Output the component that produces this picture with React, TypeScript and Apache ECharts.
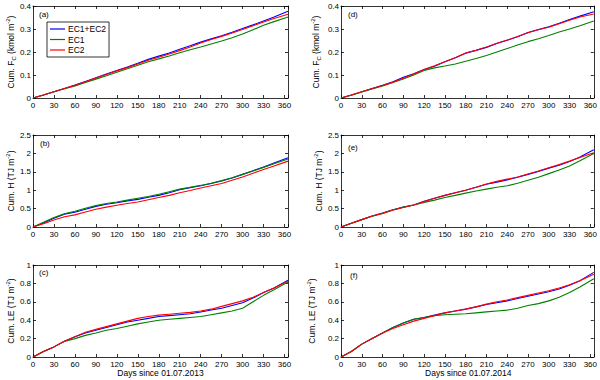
import React, { useEffect, useRef } from "react";
import * as echarts from "echarts";

// Days since start of measurement year
const days = [0, 15, 30, 45, 60, 75, 90, 105, 120, 135, 150, 165, 180, 195, 210, 225, 240, 255, 270, 285, 300, 315, 330, 345, 365];
const seriesNames = ["EC1+EC2", "EC1", "EC2"];

// (a) Cum. Fc 2013 (kmol m-2)
const fc2013Both = [0, .013, .027, .041, .056, .072, .088, .104, .12, .135, .151, .168, .182, .196, .212, .227, .243, .257, .271, .286, .302, .318, .335, .352, .377];
const fc2013Ec1 = [0, .013, .027, .04, .052, .067, .082, .097, .112, .127, .142, .158, .17, .183, .197, .21, .222, .235, .248, .262, .278, .297, .316, .332, .352];
const fc2013Ec2 = [0, .013, .027, .041, .055, .071, .087, .102, .118, .132, .148, .164, .177, .191, .206, .222, .239, .254, .268, .283, .298, .314, .33, .346, .364];

// (d) Cum. Fc 2014
const fc2014Both = [0, .013, .027, .041, .055, .071, .09, .105, .124, .138, .158, .175, .195, .207, .22, .237, .251, .266, .285, .298, .31, .325, .341, .356, .375];
const fc2014Ec1 = [0, .012, .026, .039, .052, .067, .083, .1, .12, .131, .139, .148, .16, .172, .185, .2, .215, .23, .245, .258, .272, .287, .3, .314, .335];
const fc2014Ec2 = [0, .013, .027, .041, .054, .069, .086, .104, .124, .14, .158, .175, .196, .208, .222, .238, .252, .267, .284, .297, .308, .323, .338, .352, .365];

// (b) Cum. H 2013 (TJ m-2)
const h2013Both = [0, .11, .24, .35, .4, .48, .56, .62, .66, .71, .75, .81, .86, .93, 1.01, 1.07, 1.12, 1.18, 1.25, 1.33, 1.43, 1.53, 1.63, 1.74, 1.88];
const h2013Ec1 = [0, .13, .26, .36, .43, .51, .58, .64, .68, .73, .78, .83, .89, .96, 1.03, 1.08, 1.13, 1.19, 1.26, 1.34, 1.43, 1.52, 1.62, 1.72, 1.85];
const h2013Ec2 = [0, .09, .19, .28, .33, .41, .48, .54, .59, .64, .68, .74, .8, .86, .93, .99, 1.06, 1.12, 1.18, 1.27, 1.36, 1.46, 1.56, 1.66, 1.79];

// (e) Cum. H 2014
const h2014Both = [0, .1, .2, .3, .38, .47, .54, .6, .7, .78, .86, .93, 1.0, 1.08, 1.16, 1.22, 1.28, 1.35, 1.43, 1.51, 1.6, 1.68, 1.78, 1.9, 2.1];
const h2014Ec1 = [0, .1, .2, .29, .37, .46, .54, .6, .67, .73, .8, .86, .92, .98, 1.03, 1.08, 1.12, 1.19, 1.27, 1.35, 1.45, 1.55, 1.66, 1.8, 2.0];
const h2014Ec2 = [0, .1, .2, .3, .37, .46, .53, .6, .69, .78, .86, .93, 1.0, 1.08, 1.17, 1.24, 1.3, 1.36, 1.44, 1.52, 1.61, 1.7, 1.79, 1.89, 2.02];

// (c) Cum. LE 2013 (TJ m-2)
const le2013Both = [0, .06, .11, .17, .22, .26, .29, .32, .35, .38, .4, .42, .44, .45, .46, .47, .49, .51, .53, .56, .59, .64, .7, .75, .835];
const le2013Ec1 = [0, .06, .11, .17, .2, .235, .26, .29, .31, .335, .36, .38, .4, .41, .42, .43, .44, .46, .48, .5, .53, .6, .67, .73, .815];
const le2013Ec2 = [0, .06, .11, .17, .22, .27, .3, .33, .36, .39, .42, .44, .455, .465, .475, .485, .5, .52, .55, .58, .61, .65, .7, .75, .825];

// (f) Cum. LE 2014
const le2014Both = [0, .06, .14, .2, .26, .32, .37, .41, .43, .455, .48, .5, .52, .545, .57, .59, .61, .635, .66, .685, .71, .74, .78, .83, .92];
const le2014Ec1 = [0, .06, .14, .2, .26, .32, .37, .41, .43, .45, .46, .465, .47, .48, .49, .5, .51, .53, .56, .58, .61, .65, .7, .76, .85];
const le2014Ec2 = [0, .06, .14, .2, .26, .31, .35, .39, .42, .45, .48, .5, .52, .545, .575, .6, .62, .645, .67, .695, .72, .75, .785, .83, .9];

const FONT = "'Liberation Sans', Arial, Helvetica, sans-serif";
const COLORS = ["#0000ff", "#008000", "#ff0000"];

const labelFc = "Cum. F{sub|C} (kmol m{sup|-2})";
const labelH = "Cum. H (TJ m{sup|-2})";
const labelLE = "Cum. LE (TJ m{sup|-2})";

const panels = [
  { tag: "(a)", left: 33, top: 6, width: 255, yMax: 0.4, yInt: 0.1, data: [fc2013Both, fc2013Ec1, fc2013Ec2], ylabel: labelFc, labelX: 11, tagX: 39, tagY: 14.5, xTitle: "" },
  { tag: "(d)", left: 341, top: 6, width: 254.5, yMax: 0.4, yInt: 0.1, data: [fc2014Both, fc2014Ec1, fc2014Ec2], ylabel: labelFc, labelX: 316, tagX: 348, tagY: 14.5, xTitle: "" },
  { tag: "(b)", left: 33, top: 135, width: 255, yMax: 2.5, yInt: 0.5, data: [h2013Both, h2013Ec1, h2013Ec2], ylabel: labelH, labelX: 11, tagX: 40, tagY: 143.5, xTitle: "" },
  { tag: "(e)", left: 341, top: 135, width: 254.5, yMax: 2.5, yInt: 0.5, data: [h2014Both, h2014Ec1, h2014Ec2], ylabel: labelH, labelX: 319, tagX: 348, tagY: 147, xTitle: "" },
  { tag: "(c)", left: 33, top: 265, width: 255, yMax: 1, yInt: 0.2, data: [le2013Both, le2013Ec1, le2013Ec2], ylabel: labelLE, labelX: 11, tagX: 39, tagY: 272, xTitle: "Days since 01.07.2013" },
  { tag: "(f)", left: 341, top: 265, width: 254.5, yMax: 1, yInt: 0.2, data: [le2014Both, le2014Ec1, le2014Ec2], ylabel: labelLE, labelX: 312, tagX: 350, tagY: 275, xTitle: "Days since 01.07.2014" },
];

const PANEL_H = 92;

export default function App() {
  const ref = useRef<HTMLDivElement>(null);

  useEffect(() => {
    if (!ref.current) return;
    const chart = echarts.init(ref.current, undefined, { renderer: "svg" });

    const grids: any[] = [];
    const xAxes: any[] = [];
    const yAxes: any[] = [];
    const series: any[] = [];
    const graphics: any[] = [];

    const axisLine = { show: true, onZero: false, lineStyle: { color: "#000", width: 0.8 } };
    const tick = { show: true, inside: true, length: 3, lineStyle: { color: "#000", width: 0.8 } };

    panels.forEach((p, i) => {
      grids.push({ left: p.left, top: p.top, width: p.width, height: PANEL_H, containLabel: false });
      const xBase = { type: "value", gridIndex: i, min: 0, max: 365, interval: 30, splitLine: { show: false }, axisLine, axisTick: tick };
      xAxes.push({
        ...xBase,
        position: "bottom",
        axisLabel: {
          show: true, margin: 3, fontSize: 8, color: "#000", fontFamily: FONT,
          formatter: (v: number) => (v % 30 === 0 ? String(v) : ""),
        },
      });
      xAxes.push({ ...xBase, position: "top", axisLabel: { show: false } });
      const yBase = { type: "value", gridIndex: i, min: 0, max: p.yMax, interval: p.yInt, splitLine: { show: false }, axisLine, axisTick: tick };
      yAxes.push({
        ...yBase,
        position: "left",
        axisLabel: { show: true, margin: 2, fontSize: 8, color: "#000", fontFamily: FONT },
      });
      yAxes.push({ ...yBase, position: "right", axisLabel: { show: false } });

      seriesNames.forEach((name, k) => {
        series.push({
          type: "line",
          name,
          xAxisIndex: 2 * i,
          yAxisIndex: 2 * i,
          symbol: "none",
          data: days.map((d, j) => [d, p.data[k][j]]),
          lineStyle: { color: COLORS[k], width: 1.1 },
          itemStyle: { color: COLORS[k] },
          z: 2 + k,
        });
      });

      graphics.push({
        type: "text",
        x: p.labelX,
        y: p.top + PANEL_H / 2,
        rotation: Math.PI / 2,
        style: {
          text: p.ylabel,
          fontSize: 8.5,
          fontFamily: FONT,
          fill: "#000",
          align: "center",
          verticalAlign: "middle",
          rich: {
            sub: { fontSize: 6, fontFamily: FONT, fill: "#000", padding: [5, 0, 0, 0] },
            sup: { fontSize: 6, fontFamily: FONT, fill: "#000", padding: [0, 0, 6, 0] },
          },
        },
      });
      graphics.push({
        type: "text",
        x: p.tagX,
        y: p.tagY,
        style: { text: p.tag, fontSize: 8, fontFamily: FONT, fill: "#000", align: "left", verticalAlign: "middle" },
      });
      if (p.xTitle) {
        graphics.push({
          type: "text",
          x: p.left + p.width / 2,
          y: 373,
          style: { text: p.xTitle, fontSize: 8.5, fontFamily: FONT, fill: "#000", align: "center", verticalAlign: "middle" },
        });
      }
    });

    chart.setOption({
      animation: false,
      backgroundColor: "#fff",
      grid: grids,
      xAxis: xAxes,
      yAxis: yAxes,
      series,
      graphic: graphics,
      legend: {
        data: seriesNames,
        left: 47,
        top: 22,
        orient: "vertical",
        icon: "path://M0,0L15,0L15,1.2L0,1.2Z",
        padding: [2, 3, 2, 3],
        itemWidth: 15,
        itemHeight: 10,
        itemGap: 0.5,
        borderColor: "#000",
        borderWidth: 0.8,
        backgroundColor: "#fff",
        textStyle: { fontSize: 8.5, fontFamily: FONT, color: "#000", lineHeight: 10, padding: [0, 0, 0, -2] },
      },
    });

    return () => chart.dispose();
  }, []);

  return <div ref={ref} style={{ position: "fixed", left: 0, top: 0, width: 600, height: 380 }} />;
}
